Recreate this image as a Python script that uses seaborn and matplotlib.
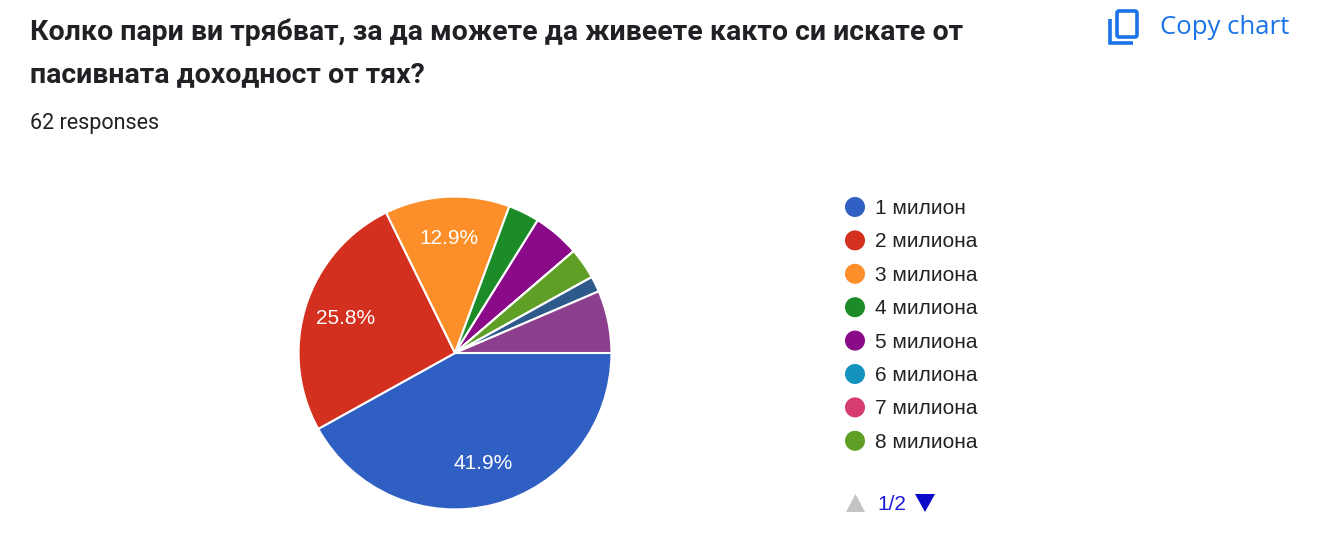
import matplotlib
matplotlib.use("Agg")
import matplotlib.pyplot as plt
import matplotlib.patches as mpatches
import seaborn as sns

# ---- data ----
categories = ["1 милион", "2 милиона", "3 милиона", "4 милиона", "5 милиона",
              "6 милиона", "7 милиона", "8 милиона", "9 милиона", "10 милиона", "Повече"]
counts = [26, 16, 8, 2, 3, 0, 0, 2, 0, 1, 4]
colors = ["#2f5fc2", "#d3301f", "#fd8f2b", "#1b8c28", "#8a0a88", "#1593bf",
          "#d63d6e", "#5f9f25", "#b32b2b", "#2e5a8b", "#8c3f8d"]
legend_visible = 8
title_lines = ["Колко пари ви трябват, за да можете да живеете както си искате от",
               "пасивната доходност от тях?"]
subtitle = "62 responses"

W, H = 1320, 552
sns.set_theme(style="white")
plt.rcParams['font.family'] = ['Roboto', 'DejaVu Sans']

fig = plt.figure(figsize=(W / 100, H / 100), dpi=100)
fig.patch.set_facecolor("white")


def px(x, y):
    return x / W, 1 - y / H


# title and subtitle
for line, ty in zip(title_lines, [32, 75]):
    fig.text(*px(30, ty), line, fontsize=20.5, fontweight="bold", color="#202124",
             va="center", ha="left", family="Roboto")
fig.text(*px(30, 124), subtitle, fontsize=15.5, color="#202124", va="center",
         ha="left", family="Roboto")

# Copy chart button
fig.text(*px(1160, 28), "Copy chart", fontsize=18.5, color="#1a73e8",
         va="center", ha="left", family="Open Sans")
ax_icon = fig.add_axes([0, 0, 1, 1], facecolor="none")
ax_icon.set_xlim(0, W)
ax_icon.set_ylim(H, 0)
ax_icon.axis("off")
ax_icon.add_patch(mpatches.FancyBboxPatch((1117, 11), 20, 26,
                                          boxstyle="round,pad=0,rounding_size=2",
                                          fill=False, ec="#1a73e8", lw=2.6))
ax_icon.plot([1110, 1110, 1133], [19, 43, 43], color="#1a73e8", lw=2.6,
             solid_capstyle="butt", solid_joinstyle="miter")

# pie
cx, cy, r = 455, 353, 158
ax = fig.add_axes([(cx - r) / W, (H - cy - r) / H, 2 * r / W, 2 * r / H])
palette = sns.color_palette(colors)


def fmt(p):
    return f"{p:.1f}%" if p >= 10 else ""


wedges, texts, autotexts = ax.pie(counts, colors=palette, startangle=0,
                                  counterclock=False, autopct=fmt,
                                  pctdistance=0.73, radius=1,
                                  wedgeprops=dict(edgecolor="white", linewidth=1.5))
for t in autotexts:
    t.set_color("white")
    t.set_fontsize(15)
    t.set_family("Liberation Sans")
ax.set_xlim(-1.01, 1.01)
ax.set_ylim(-1.01, 1.01)
ax.set_aspect("equal")
ax.axis("off")

# legend (page 1)
y0, dy = 207, 33.4
for i in range(legend_visible):
    y = y0 + i * dy
    ax_icon.add_patch(mpatches.Circle((855, y), 10, color=palette[i], lw=0))
    ax_icon.text(875, y + 1.5, categories[i], fontsize=15, color="#222222",
                 va="center", ha="left", family="Liberation Sans")

# pager
ax_icon.add_patch(mpatches.Polygon([[846, 512], [865, 512], [855.5, 494]],
                                   closed=True, color="#c4c4c4", lw=0))
ax_icon.text(877, 504.5, "1/2", fontsize=15, color="#1a1ad6", va="center",
             ha="left", family="Liberation Sans")
ax_icon.add_patch(mpatches.Polygon([[915, 494], [935, 494], [925, 512]],
                                   closed=True, color="#0a0ac8", lw=0))

fig.savefig("out.png", dpi=100, facecolor="white")
